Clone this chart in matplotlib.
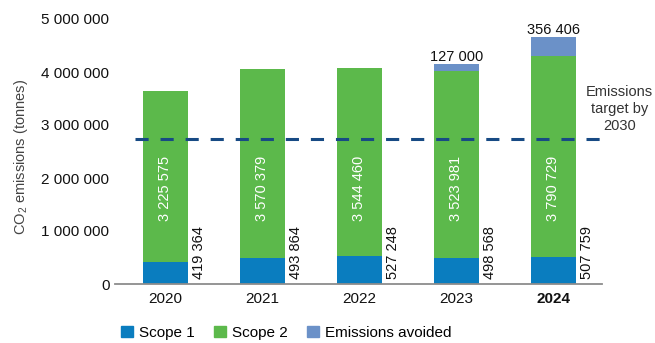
import matplotlib
matplotlib.use("Agg")
import matplotlib.pyplot as plt
from matplotlib.patches import Patch
import numpy as np

plt.rcParams['font.family'] = ['Liberation Sans', 'DejaVu Sans']
plt.rcParams['mathtext.fontset'] = 'custom'
plt.rcParams['mathtext.rm'] = 'Liberation Sans'
plt.rcParams['mathtext.it'] = 'Liberation Sans'

years = ["2020", "2021", "2022", "2023", "2024"]
scope1 = [419364, 493864, 527248, 498568, 507759]
scope2 = [3225575, 3570379, 3544460, 3523981, 3790729]
avoided = [0, 0, 0, 127000, 356406]
target_2030 = 2740000
yticks = [0, 1000000, 2000000, 3000000, 4000000, 5000000]

c_s1 = "#0a7dbf"
c_s2 = "#5cb94b"
c_av = "#6b91c8"
c_target = "#174a84"


def fmt(v):
    return f"{v:,}".replace(",", " ")


fig = plt.figure(figsize=(6.55, 3.43), dpi=100)
ax = fig.add_axes([115 / 655, 1 - 284 / 343, (602 - 115) / 655, (284 - 19) / 343])

x = np.arange(len(years))
w = 0.455
s1 = np.array(scope1)
s2 = np.array(scope2)
av = np.array(avoided)

ax.bar(x, s1, w, color=c_s1, zorder=2)
ax.bar(x, s2, w, bottom=s1, color=c_s2, zorder=2)
ax.bar(x, av, w, bottom=s1 + s2, color=c_av, zorder=2)

ax.plot([-0.31, 4.48], [target_2030, target_2030], color=c_target, lw=2.2,
        dashes=(4.3, 3.9), zorder=3, clip_on=False)

for i in range(len(years)):
    ax.text(x[i], 1800000, fmt(scope2[i]), rotation=90, ha='center', va='center',
            color='white', fontsize=10.5)
    ax.text(x[i] + 0.345, 95000, fmt(scope1[i]), rotation=90, ha='center', va='bottom',
            color='#111111', fontsize=10.5)
    if avoided[i] > 0:
        ax.text(x[i], s1[i] + s2[i] + av[i] + 5000, fmt(avoided[i]), ha='center',
                va='bottom', color='#111111', fontsize=10.5)

ax.text(4.68, 3300000, "Emissions\ntarget by\n2030", ha='center', va='center',
        color='#333333', fontsize=10.5, linespacing=1.3, clip_on=False)

ax.set_xlim(-0.52, 4.5)
ax.set_ylim(0, 5000000)
ax.set_yticks(yticks)
ax.set_yticklabels([fmt(v) for v in yticks], fontsize=11, color='#111111')
ax.set_xticks(x)
ax.set_xticklabels(years, fontsize=11, color='#111111')
ax.get_xticklabels()[-1].set_fontweight('bold')
ax.tick_params(axis='both', length=0)
ax.tick_params(axis='y', pad=4)
ax.tick_params(axis='x', pad=6)
for side in ['top', 'right', 'left']:
    ax.spines[side].set_visible(False)
ax.spines['bottom'].set_color('#8c8c8c')
ax.spines['bottom'].set_linewidth(1.3)
ax.spines['bottom'].set_zorder(4)

ax.set_ylabel("CO$_2$ emissions (tonnes)", fontsize=10.5, color='#444444')
ax.yaxis.set_label_coords(-0.175, 0.48)

handles = [Patch(color=c_s1, label="Scope 1"), Patch(color=c_s2, label="Scope 2"),
           Patch(color=c_av, label="Emissions avoided")]
fig.legend(handles=handles, loc='center left', bbox_to_anchor=(115 / 655, 1 - 333 / 343),
           ncol=3, frameon=False, fontsize=11, handlelength=0.75, handleheight=0.75,
           handletextpad=0.4, columnspacing=1.3, borderaxespad=0)

fig.savefig("out.png", dpi=100)
